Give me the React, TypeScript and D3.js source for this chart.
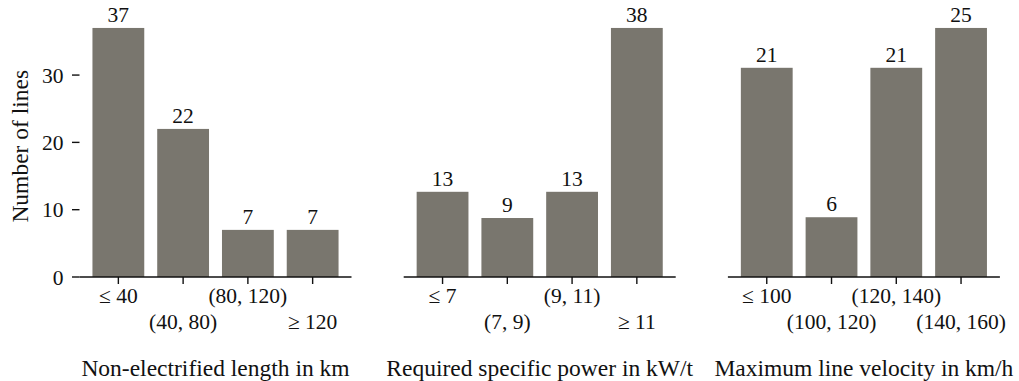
import React from "react";
import * as d3 from "d3";

const lengthCategories = ["≤ 40", "(40, 80)", "(80, 120)", "≥ 120"];
const lengthValues = [37, 22, 7, 7];
const powerCategories = ["≤ 7", "(7, 9)", "(9, 11)", "≥ 11"];
const powerValues = [13, 9, 13, 38];
const velocityCategories = ["≤ 100", "(100, 120)", "(120, 140)", "(140, 160)"];
const velocityValues = [21, 6, 21, 25];
const panelTitles = [
  "Non-electrified length in km",
  "Required specific power in kW/t",
  "Maximum line velocity in km/h",
];
const yTicks = [0, 10, 20, 30];
const yLabel = "Number of lines";

const panels = [
  { cats: lengthCategories, vals: lengthValues, title: panelTitles[0], showY: true },
  { cats: powerCategories, vals: powerValues, title: panelTitles[1], showY: false },
  { cats: velocityCategories, vals: velocityValues, title: panelTitles[2], showY: false },
];

const W = 1019;
const H = 381;
const firstLeft = 79.5;
const stride = 324.2;
const panelW = 272;
const yBottom = 277;
const yTop = 15.5;
const barColor = "#79766e";
const font = "'Liberation Serif'";
const tickFs = 21.5;
const labelFs = 23.5;

function T(props: any) {
  return <text fontFamily={font} fill="#111" {...props} />;
}

export default function App() {
  return (
    <svg width={W} height={H} style={{ position: "absolute", left: 0, top: 0 }}>
      <rect width={W} height={H} fill="#fff" />
      {panels.map((p, pi) => {
        const left = firstLeft + pi * stride;
        const x = d3.scaleBand<string>().domain(p.cats).range([left, left + panelW]).padding(0.2);
        const maxV = d3.max(p.vals) as number;
        const y = d3.scaleLinear().domain([0, maxV * 1.05]).range([yBottom, yTop]);
        return (
          <g key={pi}>
            {p.cats.map((c, i) => {
              const cx = (x(c) as number) + x.bandwidth() / 2;
              return (
                <g key={c}>
                  <rect
                    x={x(c)}
                    y={y(p.vals[i])}
                    width={x.bandwidth()}
                    height={y(0) - y(p.vals[i])}
                    fill={barColor}
                  />
                  <T x={cx} y={y(p.vals[i]) - 6} textAnchor="middle" fontSize={tickFs}>
                    {p.vals[i]}
                  </T>
                  <line x1={cx} x2={cx} y1={yBottom} y2={yBottom + 7} stroke="#111" strokeWidth={1.4} />
                  <T x={cx} y={i % 2 === 0 ? 303 : 329} textAnchor="middle" fontSize={tickFs}>
                    {c}
                  </T>
                </g>
              );
            })}
            <line x1={left} x2={left + panelW} y1={yBottom} y2={yBottom} stroke="#111" strokeWidth={1.6} />
            <T x={left + panelW / 2} y={376} textAnchor="middle" fontSize={labelFs}>
              {p.title}
            </T>
            {p.showY && (
              <g>
                {yTicks.map((t) => (
                  <g key={t}>
                    <line x1={left - 7.5} x2={left} y1={y(t)} y2={y(t)} stroke="#111" strokeWidth={1.4} />
                    <T x={63.5} y={y(t)} dy="0.35em" textAnchor="end" fontSize={tickFs}>
                      {t}
                    </T>
                  </g>
                ))}
                <T
                  transform={`translate(28, ${(yTop + yBottom) / 2}) rotate(-90)`}
                  textAnchor="middle"
                  fontSize={labelFs}
                >
                  {yLabel}
                </T>
              </g>
            )}
          </g>
        );
      })}
    </svg>
  );
}
